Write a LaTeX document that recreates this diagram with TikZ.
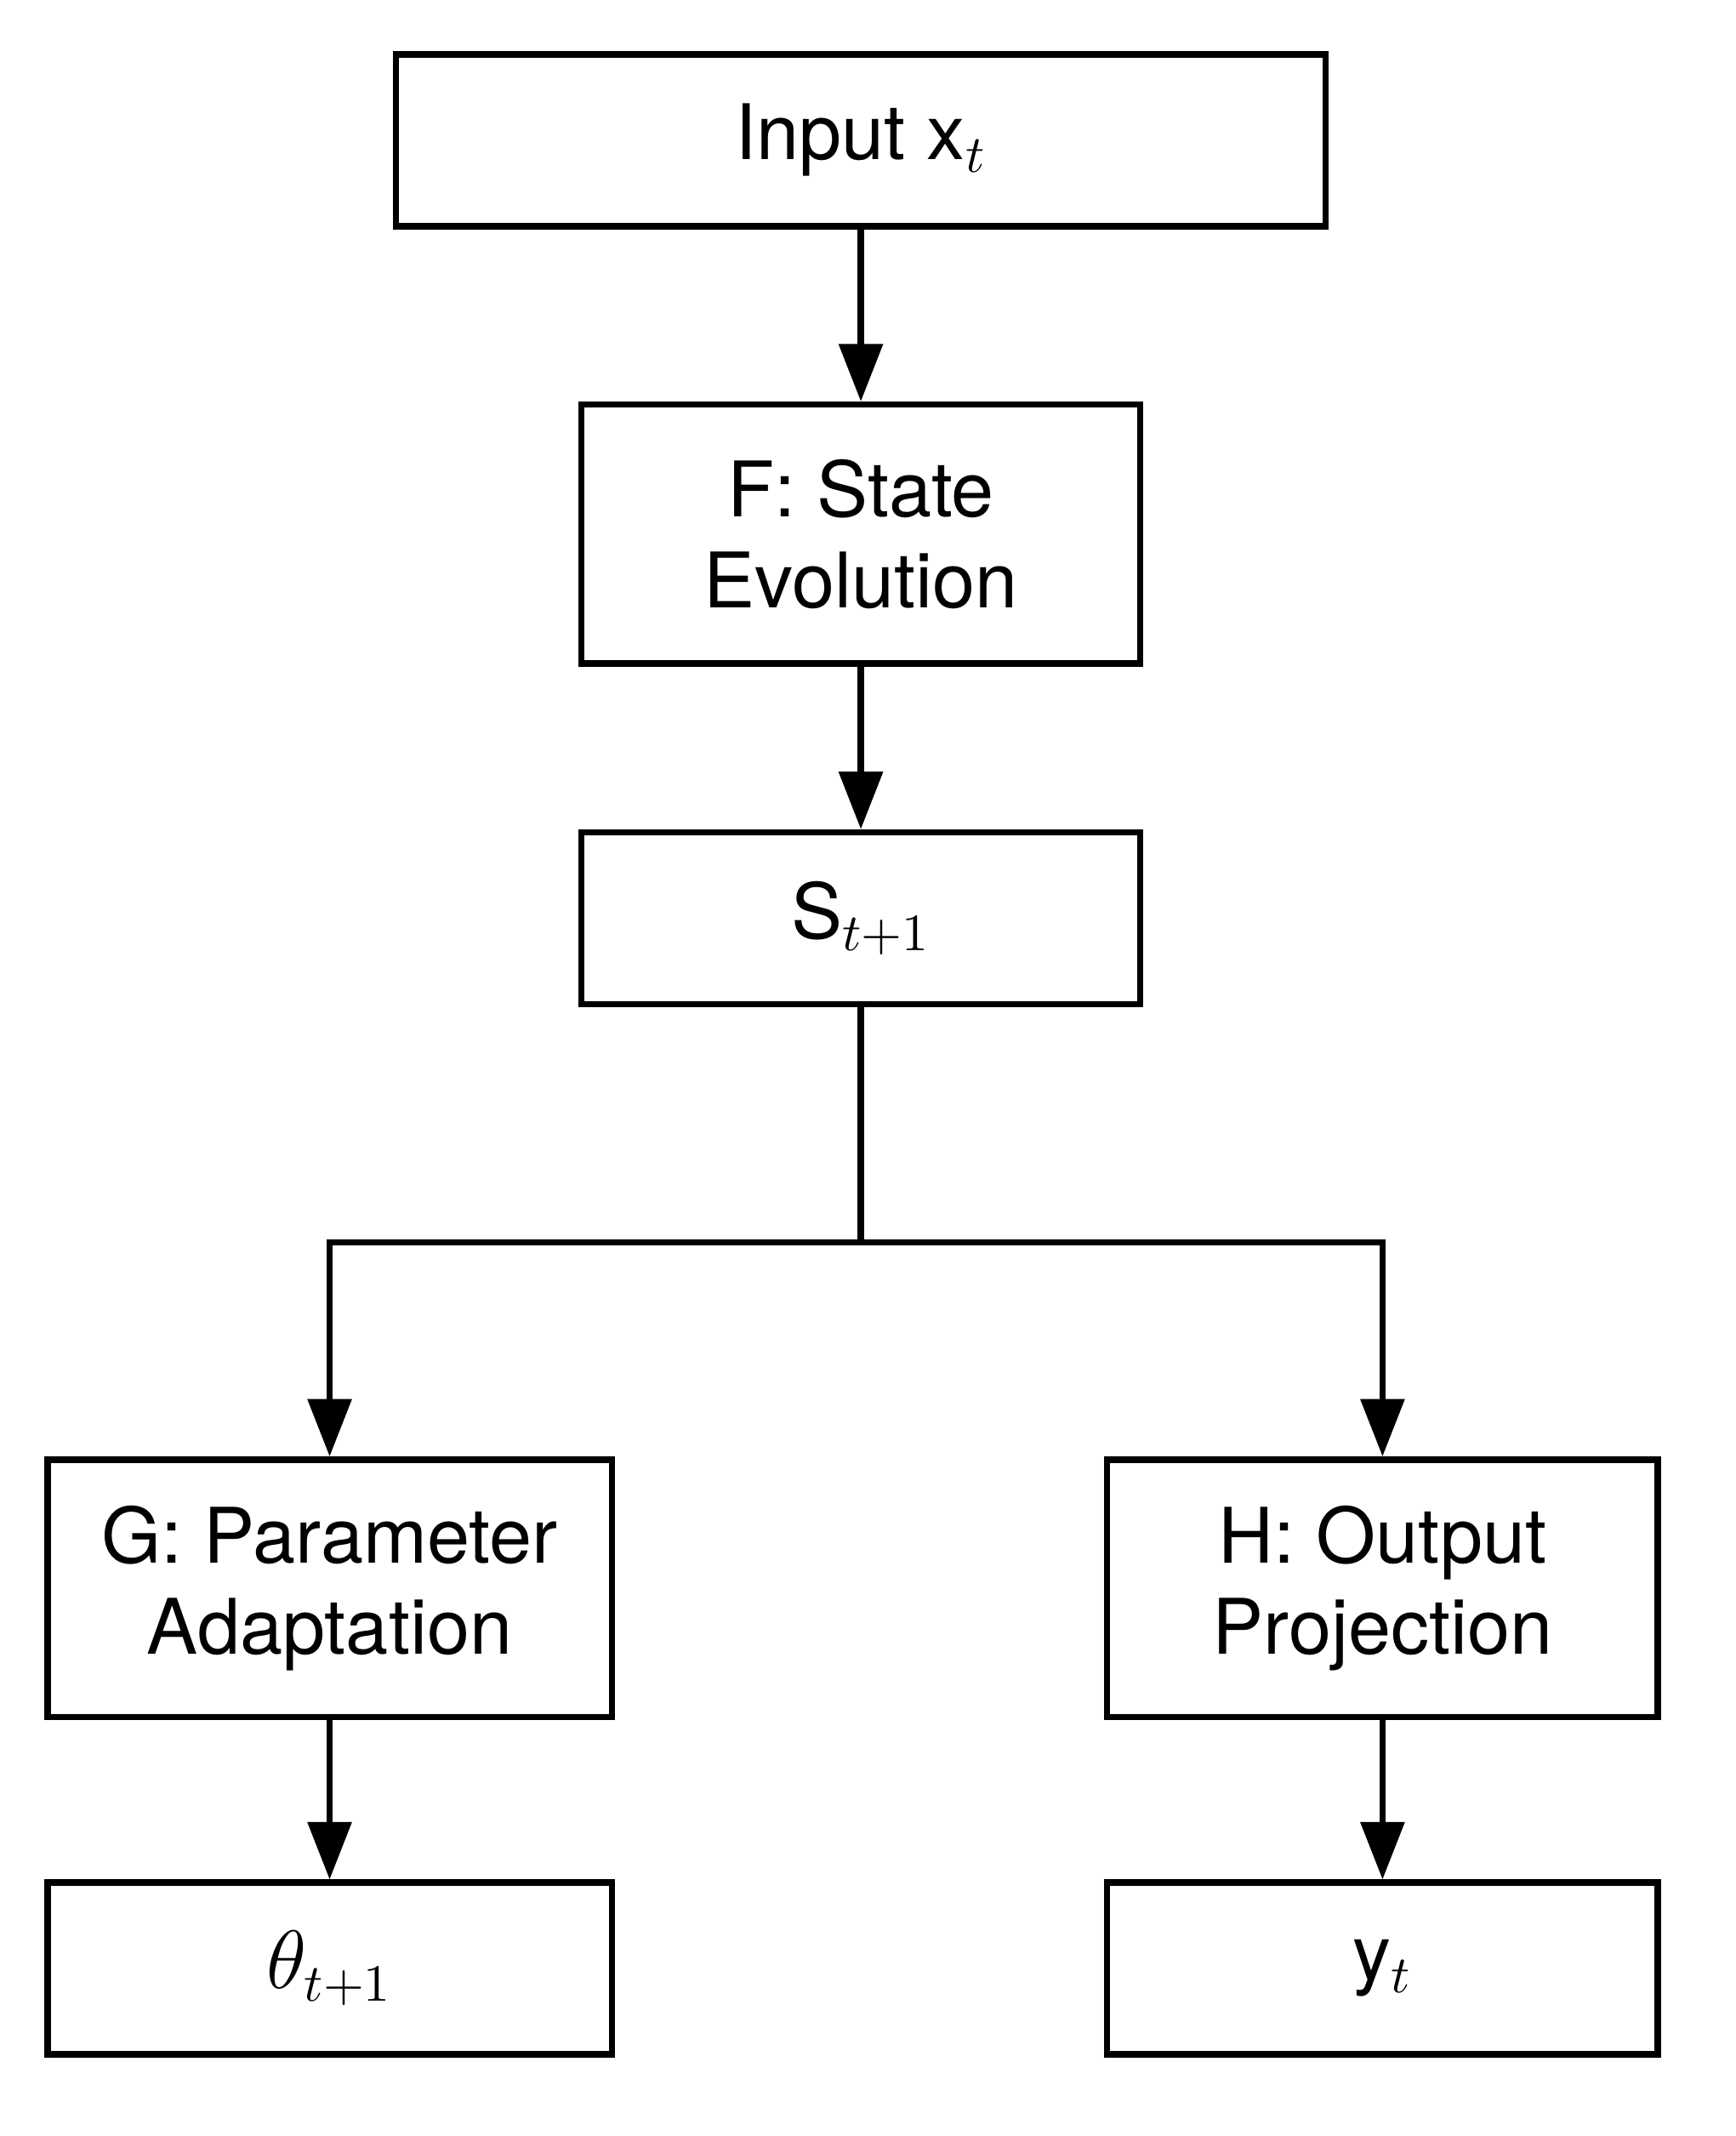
\documentclass[tikz,border=0pt]{standalone}
\usepackage{fontspec}
\setmainfont{TeX Gyre Heros}
\usetikzlibrary{arrows.meta}
\begin{document}
\begin{tikzpicture}[x=0.01cm,y=-0.01cm]

    \tikzstyle{block}=[rectangle,draw,line width=1.3pt,align=center,inner sep=0pt,
                       font=\fontsize{16}{19}\selectfont]
    \tikzstyle{flow}=[line width=1.3pt,-{Triangle[length=12pt,width=9pt]}]

    \useasboundingbox (0,0) rectangle (1274,1568);

    \node[block, minimum width=6.82cm, minimum height=1.26cm] (input) at (632,103)  {Input x$_t$};
    \node[block, minimum width=4.10cm, minimum height=1.90cm] (state) at (632,392)  {F: State\\Evolution};
    \node[block, minimum width=4.10cm, minimum height=1.26cm] (snext) at (632,674)  {S$_{t+1}$};
    \node[block, minimum width=4.14cm, minimum height=1.89cm] (adapt) at (242,1166) {G: Parameter\\Adaptation};
    \node[block, minimum width=4.04cm, minimum height=1.89cm] (proj)  at (1015,1166) {H: Output\\Projection};
    \node[block, minimum width=4.14cm, minimum height=1.26cm] (theta) at (242,1445) {$\theta_{t+1}$};
    \node[block, minimum width=4.04cm, minimum height=1.26cm] (yout)  at (1015,1445) {y$_t$};

    \coordinate (split) at (632,912);

    \draw[flow] (input) -- (state);
    \draw[flow] (state) -- (snext);
    \draw[line width=1.3pt] (snext) -- (split);
    \draw[flow] (split) -| (adapt);
    \draw[flow] (split) -| (proj);
    \draw[flow] (adapt) -- (theta);
    \draw[flow] (proj) -- (yout);

\end{tikzpicture}
\end{document}
